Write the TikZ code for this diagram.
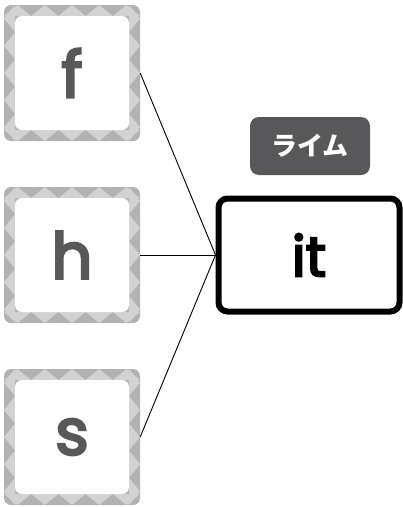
\documentclass[tikz,border=0pt]{standalone}
\usepackage{fontspec}
\setmainfont{Poppins}
\newfontfamily\medfont{Poppins}[FakeBold=4]
\newfontfamily\jpfont{Noto Sans CJK JP}
\usetikzlibrary{calc}

\definecolor{tiledark}{HTML}{B2B2B3}
\definecolor{tilelight}{HTML}{D2D2D3}
\definecolor{inkgrey}{HTML}{58585A}

\tikzset{
  tile/.style={minimum width=136pt, minimum height=136pt, inner sep=0pt,
    rounded corners=7pt, fill=tiledark,
    path picture={
      \foreach \i in {0,...,4}{
        \fill[tilelight, sharp corners] ([shift={(\i*27.2pt,-11pt)}]path picture bounding box.north west) -- ++(27.2pt,0) -- ++(-13.6pt,11pt) -- cycle;
        \fill[tilelight, sharp corners] ([shift={(\i*27.2pt,11pt)}]path picture bounding box.south west) -- ++(27.2pt,0) -- ++(-13.6pt,-11pt) -- cycle;
        \fill[tilelight, sharp corners] ([shift={(11pt,-\i*27.2pt)}]path picture bounding box.north west) -- ++(0,-27.2pt) -- ++(-11pt,13.6pt) -- cycle;
        \fill[tilelight, sharp corners] ([shift={(-11pt,-\i*27.2pt)}]path picture bounding box.north east) -- ++(0,-27.2pt) -- ++(11pt,13.6pt) -- cycle;
      }
      \fill[white, rounded corners=7pt] ([shift={(11pt,-11pt)}]path picture bounding box.north west) rectangle ([shift={(-11pt,11pt)}]path picture bounding box.south east);
    }},
  letter/.style={text=inkgrey, font=\medfont\fontsize{64}{64}\selectfont},
  rimebox/.style={draw=black, line width=6pt, rounded corners=9pt, fill=white,
    minimum width=181pt, minimum height=113pt, font=\medfont\fontsize{56}{56}\selectfont},
  tag/.style={fill=inkgrey, text=white, rounded corners=9pt, minimum width=120pt,
    minimum height=58pt, inner sep=0pt, font=\jpfont\bfseries\fontsize{26}{26}\selectfont}
}

\begin{document}
\begin{tikzpicture}[x=1pt, y=-1pt]
  \useasboundingbox (0,0) rectangle (403,507);
  % left tiles
  \node[tile] (f) at (72,73) {};
  \node[tile] (h) at (72,255) {};
  \node[tile] (s) at (72,437) {};
  \node[letter] at (f) {f};
  \node[letter] at (h) {h};
  \node[letter] at (s) {s};
  % right box
  \node[rimebox] (it) at (309,255) {it};
  \node[tag] (rime) at (310,146) {ライム};
  \foreach \t in {f,h,s}
    \draw[line width=0.9pt] (\t.east) -- (it.west);
\end{tikzpicture}
\end{document}
